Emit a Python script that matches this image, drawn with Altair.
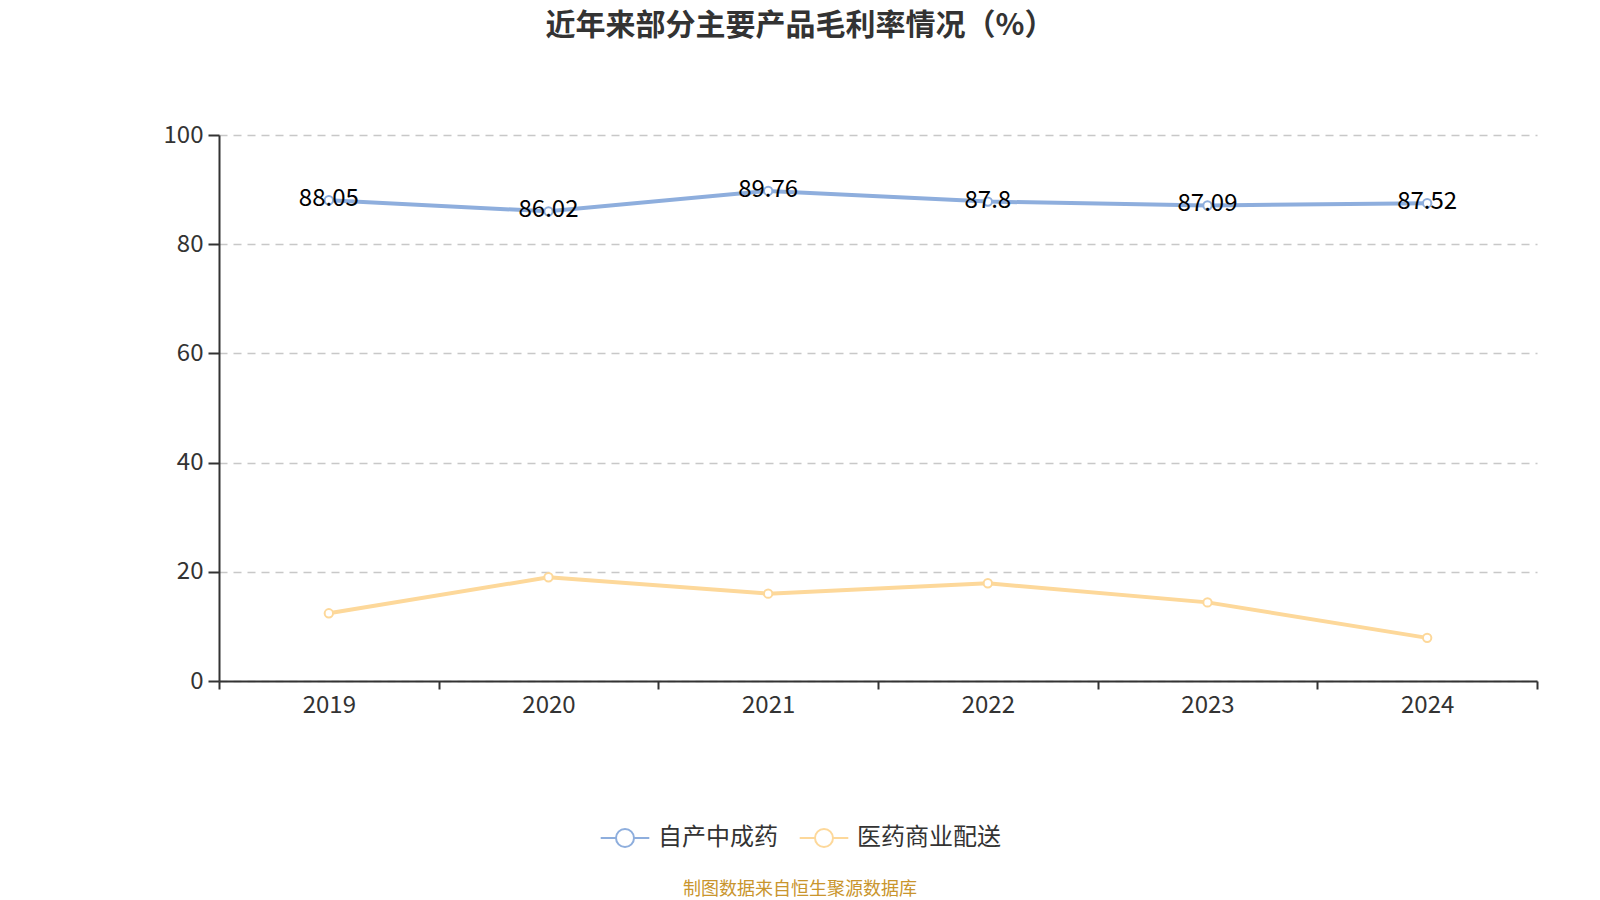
import altair as alt
import pandas as pd

years = ["2019", "2020", "2021", "2022", "2023", "2024"]
series_names = ["自产中成药", "医药商业配送"]
own_tcm = [88.05, 86.02, 89.76, 87.8, 87.09, 87.52]
distribution = [12.4, 19.0, 16.0, 17.9, 14.4, 7.9]
y_ticks = [0, 20, 40, 60, 80, 100]
title_text = "近年来部分主要产品毛利率情况（%）"
source_text = "制图数据来自恒生聚源数据库"
colors = ["#8eaedd", "#fdd89a"]

rows = []
for i, y in enumerate(years):
    rows.append({"year": y, "series": series_names[0], "value": own_tcm[i], "label": f"{own_tcm[i]:g}"})
    rows.append({"year": y, "series": series_names[1], "value": distribution[i], "label": ""})
df = pd.DataFrame(rows)

FONT = "Noto Sans CJK SC"
W, H = 1318, 546

color_enc = alt.Color(
    "series:N",
    scale=alt.Scale(domain=series_names, range=colors),
    sort=series_names,
    legend=alt.Legend(
        title=None,
        orient="none",
        direction="horizontal",
        legendX=394,
        legendY=691,
        symbolType="M-2.7,0L-1,0M1,0L2.7,0M-1,0A1,1,0,1,0,1,0A1,1,0,1,0,-1,0",
        symbolSize=324,
        symbolStrokeWidth=2,
        symbolFillColor="white",
        labelFontSize=24,
        labelFont=FONT,
        labelColor="#333333",
        labelOffset=21,
        columnPadding=17,
    ),
)

x_enc = alt.X(
    "year:N",
    sort=years,
    scale=alt.Scale(type="band", paddingInner=0, paddingOuter=0),
    bandPosition=0.5,
    axis=alt.Axis(
        title=None,
        labelAngle=0,
        tickBand="extent",
        grid=False,
        domainColor="#333333",
        domainWidth=2,
        tickColor="#333333",
        tickWidth=2,
        tickSize=8,
        labelFontSize=24,
        labelFont=FONT,
        labelColor="#333333",
        labelPadding=4,
    ),
)

y_enc = alt.Y(
    "value:Q",
    scale=alt.Scale(domain=[0, 100], nice=False, zero=True),
    axis=alt.Axis(
        title=None,
        values=y_ticks,
        grid=True,
        gridColor="#c8c8c8",
        gridDash=[8, 6],
        gridWidth=1.3,
        domainColor="#333333",
        domainWidth=2,
        tickColor="#333333",
        tickWidth=2,
        tickSize=11,
        labelFontSize=24,
        labelFont=FONT,
        labelColor="#333333",
        labelPadding=5,
    ),
)

base = alt.Chart(df)

lines = base.mark_line(strokeWidth=4).encode(x=x_enc, y=y_enc, color=color_enc)
points = base.mark_point(filled=False, fill="white", size=70, strokeWidth=2, opacity=1).encode(
    x=x_enc, y=y_enc, color=alt.Color("series:N", scale=alt.Scale(domain=series_names, range=colors), legend=None)
)
labels = base.mark_text(fontSize=24, font=FONT, color="#000000", dy=-1, baseline="middle").encode(
    x=x_enc, y=y_enc, text="label:N"
)

src = alt.Chart(pd.DataFrame({"t": [source_text]})).mark_text(
    fontSize=18, font=FONT, color="#c9952d", baseline="middle", align="center"
).encode(text="t:N", x=alt.value(581), y=alt.value(755))

chart = (
    alt.layer(lines, points, labels, src)
    .properties(
        width=W,
        height=H,
        background="white",
        autosize=alt.AutoSizeParams(type="none"),
        padding={"left": 211, "top": 127, "right": 55, "bottom": 235},
        title=alt.TitleParams(
            title_text,
            anchor="middle",
            frame="group",
            fontSize=30,
            fontWeight="bold",
            font=FONT,
            color="#333333",
            offset=82,
            dx=-78,
        ),
    )
    .configure_view(strokeWidth=0, stroke="transparent")
)

chart.save("out.html", embed_options={"renderer": "svg", "actions": False})
